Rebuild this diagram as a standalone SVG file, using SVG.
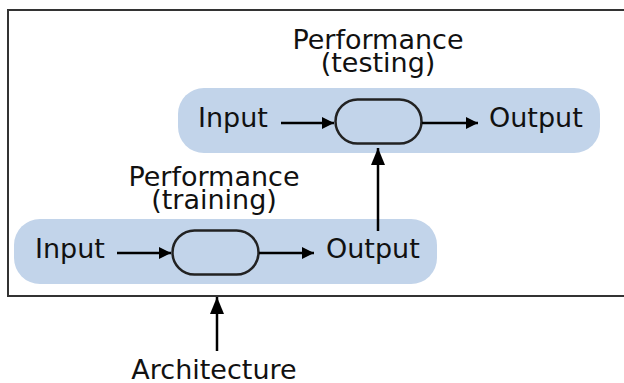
<svg xmlns="http://www.w3.org/2000/svg" width="624" height="383" viewBox="0 0 624 383">
  <style>
    text { font-family: "DejaVu Sans", "Liberation Sans", sans-serif; font-size: 27px; fill: #111; }
    .pill { fill: #c2d4ea; }
    .box { fill: none; stroke: #222; stroke-width: 2.5; }
    .frame { fill: none; stroke: #333; stroke-width: 2; }
    .link { fill: none; stroke: #000; stroke-width: 2.5; }
  </style>
  <defs>
    <marker id="arrow" markerUnits="userSpaceOnUse" markerWidth="14" markerHeight="14" refX="12" refY="6" orient="auto">
      <path d="M0,0 L12,6 L0,12 Z" fill="#000"/>
    </marker>
    <marker id="arrowL" markerUnits="userSpaceOnUse" markerWidth="18" markerHeight="16" refX="17" refY="7" orient="auto">
      <path d="M0,0 L17,7 L0,14 Z" fill="#000"/>
    </marker>
  </defs>

  <!-- system boundary -->
  <rect id="frame" class="frame" x="8" y="10" width="630" height="286"/>

  <!-- testing stage -->
  <g id="testing">
    <rect class="pill" x="178" y="88" width="422" height="65" rx="26"/>
    <text x="378" y="49" text-anchor="middle">Performance</text>
    <text x="378" y="72" text-anchor="middle">(testing)</text>
    <text x="198" y="127">Input</text>
    <text x="489" y="127">Output</text>
  </g>
  <g id="testing-model">
    <rect class="box" x="335.5" y="99.5" width="86" height="44" rx="22"/>
  </g>

  <!-- training stage -->
  <g id="training">
    <rect class="pill" x="14" y="219" width="423" height="65" rx="26"/>
    <text x="214" y="186" text-anchor="middle">Performance</text>
    <text x="214" y="209" text-anchor="middle">(training)</text>
    <text x="35" y="258">Input</text>
    <text x="326" y="258">Output</text>
  </g>
  <g id="training-model">
    <rect class="box" x="172.5" y="230.5" width="86" height="44" rx="22"/>
  </g>

  <g id="architecture">
    <text x="214" y="379" text-anchor="middle">Architecture</text>
  </g>

  <!-- connectors -->
  <g id="connectors">
    <line class="link" x1="281" y1="123" x2="334" y2="123" marker-end="url(#arrow)"/>
    <line class="link" x1="422" y1="123" x2="478" y2="123" marker-end="url(#arrow)"/>
    <line class="link" x1="117" y1="253" x2="171" y2="253" marker-end="url(#arrow)"/>
    <line class="link" x1="259" y1="253" x2="314" y2="253" marker-end="url(#arrow)"/>
    <line class="link" x1="378" y1="231" x2="378" y2="148" marker-end="url(#arrowL)"/>
    <line class="link" x1="217" y1="351" x2="217" y2="297" marker-end="url(#arrowL)"/>
  </g>
</svg>
